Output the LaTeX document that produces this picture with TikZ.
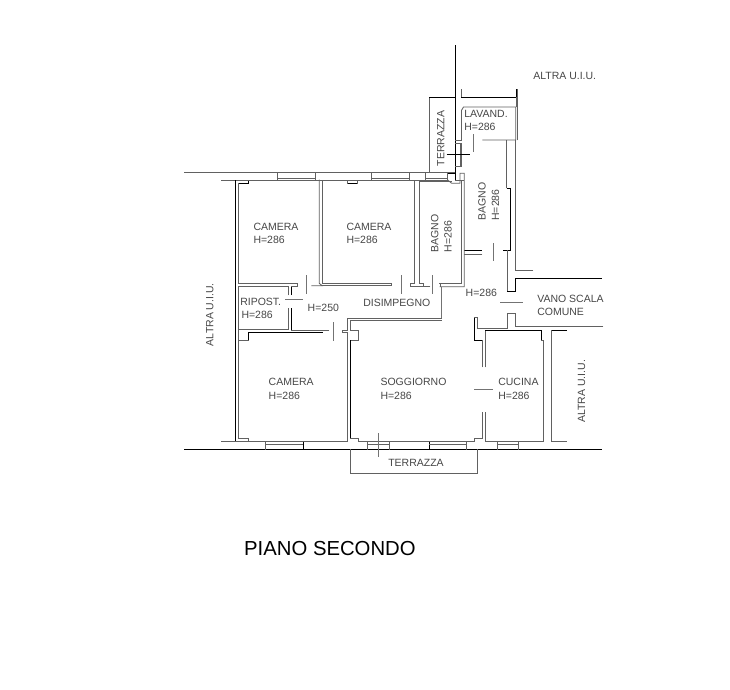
\documentclass[tikz,border=0pt]{standalone}
\usepackage{fontspec}
\setmainfont{Liberation Sans}
\tikzset{
  wall/.style={draw=black!62,line width=0.85pt,line cap=rect,line join=miter},
  heavy/.style={draw=black,line width=0.95pt,line join=miter},
  door/.style={draw=black!55,line width=0.75pt},
  lbl/.style={text=black!72,font=\fontsize{10.5}{12}\selectfont,anchor=base west,inner sep=0pt,outer sep=0pt},
  vlbl/.style={lbl,rotate=90},
  title/.style={text=black,font=\fontsize{20.3}{24}\selectfont,anchor=base west,inner sep=0pt}
}
\begin{document}
\begin{tikzpicture}[x=1pt,y=-1pt]
\useasboundingbox[fill=white] (0,0) rectangle (730,689);
% main boundary lines
\draw[heavy] (455,45) -- (455,173);
\draw[wall] (184,172.3) -- (455,172.3);
\draw[heavy] (184,449.3) -- (602,449.3);
% upper terrace and lavanderia
\draw[wall] (429,172) -- (429,97);
\draw[heavy] (429,97) -- (455,97);
\draw[wall] (461,89) -- (461,97);
\draw[heavy] (461,97) -- (516,97) -- (516,89);
\draw[wall] (517.8,89) -- (517.8,140);
\draw[wall] (516,97) -- (516,107);
\draw[wall] (461.7,110) -- (463.5,107) -- (515.7,107) -- (515.7,140) -- (482.7,140);
\draw[wall] (461.7,110) -- (461.7,140);
\draw[wall] (455,140) -- (461.7,140) (455,143.3) -- (461.7,143.3) (461.7,143.3) -- (461.7,166) (460,143.3) -- (460,166) (455,166) -- (461.7,166);
\draw[door] (473.3,134) -- (473.3,151.7);
\draw[heavy] (446.7,154.3) -- (470,154.3);
% bath right walls
\draw[wall] (506.7,140) -- (506.7,188) (515.7,140) -- (515.7,270) -- (533,270);
\draw[heavy] (506.7,188) -- (510.7,188) -- (510.7,250) -- (503,250);
\draw[wall] (507,250) -- (507,291);
\draw[heavy] (507,291) -- (515,291) -- (515,278) -- (602,278);
\draw[wall] (464,254) -- (482,254);
\draw[heavy] (464,250.2) -- (482,250.2);
\draw[door] (493,243) -- (493,261);
\draw[door] (500,302) -- (523,302);
% central pillar
\draw[heavy] (447.7,173.3) -- (455,173.3) -- (455,180);
\draw[wall] (447.7,180) -- (447.7,173.3) (455,180) -- (463.5,180);
\draw[wall] (447.7,180) -- (451.7,183.3) -- (460,183.3) -- (460,173.3) -- (464.3,173.3) -- (464.3,286.7) -- (440,286.7);
\draw[wall] (461.7,180) -- (461.7,283.3) -- (439.3,283.3);
% windows, top
\draw[wall] (221.7,180) -- (235.7,180);
\draw[wall] (235.7,180) -- (277.3,180) (277.3,172.3) -- (277.3,180) -- (315,180) -- (315,172.3) (277.3,178) -- (315,178);
\draw[wall] (315,180) -- (371.7,180) (371.7,172.3) -- (371.7,180) -- (409.3,180) -- (409.3,172.3) (371.7,178) -- (409.3,178);
\draw[wall] (409.3,180) -- (447.7,180) (425.7,172.3) -- (425.7,180) (425.7,178) -- (447.7,178);
% camera 1
\draw[heavy] (235.7,180) -- (235.7,441.7);
\draw[wall] (235.7,441.7) -- (221.7,441.7);
\draw[heavy] (238.3,183.3) -- (248.3,183.3) -- (248.3,180.6);
\draw[wall] (238.3,183.3) -- (238.3,283.3) -- (297.3,283.3);
\draw[wall] (319.3,180) -- (319.3,283.3) -- (322,285.7) -- (311.7,285.7);
% ripostiglio
\draw[wall] (238.3,286.7) -- (288.3,286.7) -- (288.3,295);
\draw[wall] (238.3,286.7) -- (238.3,329) -- (288.3,329) -- (288.3,308.3);
\draw[heavy] (291,295) -- (291,286.7);
\draw[wall] (291,286.7) -- (297.3,286.7) -- (297.3,283.3);
\draw[heavy] (291,308.3) -- (291,330.7);
\draw[door] (285,299.3) -- (302.7,299.3);
\draw[door] (306.7,275) -- (306.7,294);
% camera 2
\draw[wall] (322.7,180) -- (322.7,283.3) -- (390.7,283.3);
\draw[wall] (322,285.7) -- (391.7,285.7) -- (391.7,283.3);
\draw[heavy] (347.3,183.3) -- (357.7,183.3);
\draw[wall] (347.3,180) -- (347.3,183.3) (357.7,180) -- (357.7,183.3);
\draw[door] (401.7,275) -- (401.7,294);
% bathroom
\draw[wall] (414.3,180) -- (414.3,283.3) -- (410,283.3) -- (410,286) -- (430,286);
\draw[wall] (419,180.5) -- (419,283.3) -- (423.3,283.3) -- (423.3,286);
\draw[wall] (419,181) -- (451.7,181);
\draw[door] (432.3,275) -- (432.3,294);
\draw[wall] (440,286.7) -- (440,283.3);
\draw[door] (441.7,287) -- (441.7,318);
% corridor lower wall
\draw[wall] (441.7,318.3) -- (347.3,318.3) -- (347.3,330) -- (342.7,330) (350.7,320) -- (441.7,320);
\draw[wall] (350.7,320) -- (350.7,330) -- (358.3,330) -- (358.3,340) -- (350.3,340);
\draw[door] (333.3,322) -- (333.3,341);
% camera 3
\draw[wall] (238.3,329) -- (238.3,340);
\draw[wall] (238.3,340) -- (248.3,340);
\draw[heavy] (248.3,340) -- (248.3,332.7) -- (322.7,332.7);
\draw[wall] (291,330.7) -- (329,330.7);
\draw[wall] (342.7,330) -- (342.7,332.7) -- (347.7,332.7);
\draw[wall] (238.3,340) -- (238.3,438.3) -- (248.3,438.3) -- (248.3,441.7);
\draw[wall] (235.7,441.7) -- (265.3,441.7);
\draw[wall] (265.3,441.7) -- (265.3,449.3) (265.3,444.3) -- (303.3,444.3) (265.3,441.7) -- (347.7,441.7);
\draw[heavy] (303.3,441.7) -- (303.3,449.3);
\draw[wall] (347.7,333) -- (347.7,441.7);
\draw[heavy] (350.3,340) -- (350.3,438.3);
% soggiorno south wall and windows
\draw[wall] (350.3,438.3) -- (358,438.3) -- (358,441.7) -- (474.7,441.7);
\draw[wall] (367.3,441.7) -- (367.3,449.3) (389.3,441.7) -- (389.3,449.3) (367.3,444) -- (389.3,444);
\draw[door] (378.3,433) -- (378.3,457);
\draw[heavy] (429.3,441.7) -- (429.3,449.3);
\draw[wall] (429.3,444.3) -- (466.7,444.3) (466.7,441.7) -- (466.7,449.3);
\draw[wall] (474.7,441.7) -- (474.7,438.3) -- (482.7,438.3) -- (482.7,412.7);
% terrace south
\draw[wall] (350.3,449.3) -- (350.3,473.3) -- (477.3,473.3) -- (477.3,449.3);
% cucina
\draw[heavy] (474.7,317.3) -- (474.7,340) -- (482.7,340);
\draw[wall] (482.7,340) -- (482.7,367);
\draw[wall] (474.7,317.3) -- (477,317.3) -- (477,328) -- (507,328) -- (507,313) -- (515,313) -- (515,326.7) -- (603,326.7);
\draw[wall] (485,367) -- (485,330.7);
\draw[heavy] (485,330.7) -- (541.7,330.7) -- (541.7,340);
\draw[wall] (541.7,340) -- (543.7,340);
\draw[wall] (543.7,340) -- (543.7,441.7) -- (485,441.7) -- (485,412.7);
\draw[door] (474,389.3) -- (492.7,389.3);
\draw[wall] (497.3,441.7) -- (497.3,449.3) (518.3,441.7) -- (518.3,449.3) (497.3,444.3) -- (518.3,444.3);
% neighbour
\draw[wall] (551.7,330.7) -- (551.7,441.7) -- (566.7,441.7);
\draw[heavy] (551.7,330.7) -- (566.7,330.7);
% labels
\node[lbl] (c1a) at (253.5,230) {CAMERA};
\node[lbl] (c1b) at (253.5,243) {H=286};
\node[lbl] (c2a) at (346.5,230) {CAMERA};
\node[lbl] (c2b) at (346.5,243) {H=286};
\node[lbl] (c3a) at (268.7,385.7) {CAMERA};
\node[lbl] (c3b) at (268.7,399) {H=286};
\node[lbl] (sa) at (380.5,385.7) {SOGGIORNO};
\node[lbl] (sb) at (380.5,399) {H=286};
\node[lbl] (ca) at (498.3,385.7) {CUCINA};
\node[lbl] (cb) at (498.3,399) {H=286};
\node[lbl] (ra) at (240.3,305) {RIPOST.};
\node[lbl] (rb) at (241.5,318.3) {H=286};
\node[lbl] (h250) at (307.7,311.7) {H=250};
\node[lbl] (dis) at (363.3,306.7) {DISIMPEGNO};
\node[lbl] (h286) at (465.7,296.7) {H=286};
\node[lbl] (va) at (537.3,302.7) {VANO SCALA};
\node[lbl] (vb) at (537.3,315.7) {COMUNE};
\node[lbl] (au) at (533.3,79.3) {ALTRA U.I.U.};
\node[lbl] (la) at (464.3,117.3) {LAVAND.};
\node[lbl] (lb) at (464.3,130) {H=286};
\node[lbl] (ts) at (388.3,466.7) {TERRAZZA};
\node[vlbl] (tn) at (444.3,166) {TERRAZZA};
\node[vlbl] (b1a) at (438.3,252.3) {BAGNO};
\node[vlbl] (b1b) at (451.7,252.3) {H=286};
\node[vlbl] (b2a) at (485.7,220.7) {BAGNO};
\node[vlbl] (b2b) at (499,220.7) {H=286};
\node[vlbl] (al) at (213.3,346) {ALTRA U.I.U.};
\node[vlbl] (ar) at (585,422.7) {ALTRA U.I.U.};
\node[title] (pt) at (244,555.3) {PIANO SECONDO};
\end{tikzpicture}
\end{document}
